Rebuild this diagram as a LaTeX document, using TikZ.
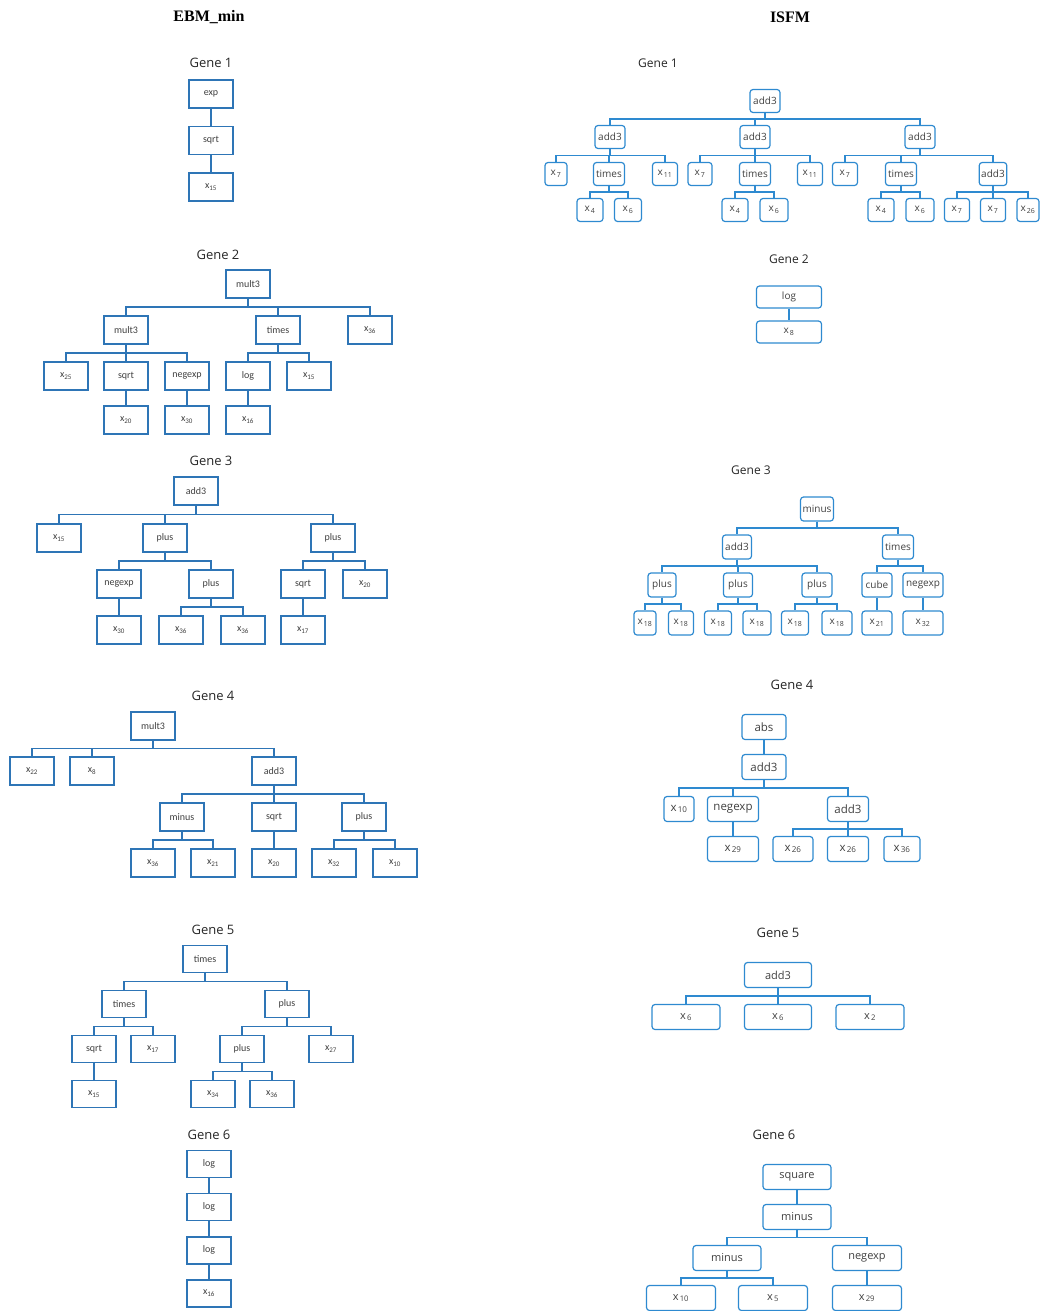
\documentclass[tikz,border=0pt]{standalone}
\usepackage{fontspec}
\setmainfont{Open Sans}
\newfontfamily\ebmlabel{Carlito}
\newfontfamily\headfont{Liberation Serif}
\usetikzlibrary{positioning,calc}
\definecolor{ebmBlue}{HTML}{2E75B6}
\definecolor{isfBlue}{HTML}{2E8AD0}
\definecolor{txtGray}{HTML}{404040}
\newcommand{\xs}[1]{x\textsubscript{#1}}
\newcommand{\xv}[1]{x\kern1.2pt\textsubscript{#1}}
\tikzset{
  head/.style={font=\headfont\bfseries\fontsize{16}{18}\selectfont},
  genetitle/.style={font=\fontsize{13}{15}\selectfont, text=black!85},
  ebmnode/.style={
    draw=ebmBlue, line width=1.6pt, minimum width=44pt, minimum height=28pt,
    inner sep=1pt, text=txtGray, font=\ebmlabel\fontsize{10}{12}\selectfont
  },
  isfnode/.style={
    draw=isfBlue, line width=1.2pt, rounded corners=3pt, minimum width=22pt,
    minimum height=23pt, inner sep=2pt, text=txtGray, font=\fontsize{10}{12}\selectfont
  },
  bigisf/.style={isfnode, minimum height=25pt, font=\fontsize{11.5}{13}\selectfont},
  ebmlink/.style={draw=ebmBlue, line width=1.6pt},
  isflink/.style={draw=isfBlue, line width=1.2pt}
}
\newcommand{\ebmlinks}[2]{\foreach \kid in {#2} \draw[ebmlink] (#1.south) |- ($(#1.south)!.5!(\kid.north)$) -| (\kid.north);}
\newcommand{\isflinks}[2]{\foreach \kid in {#2} \draw[isflink] (#1.south) |- ($(#1.south)!.5!(\kid.north)$) -| (\kid.north);}

\begin{document}
\begin{tikzpicture}[x=1pt,y=-1pt]
  \useasboundingbox (0,0) rectangle (1041,1311);
  \node[head] (hebm) at (209,17) {EBM\_min};
  \node[head] (hisf) at (790,17) {ISFM};

  % EBM_min, gene 1
  \node[genetitle] (et1) at (211,63) {Gene 1};
  \node[ebmnode] (e1a) at (211,94) {exp};
  \node[ebmnode, below=16.9pt of e1a] (e1b) {sqrt};
  \node[ebmnode, below=16.9pt of e1b] (e1c) {\xs{15}};
  \ebmlinks{e1a}{e1b}
  \ebmlinks{e1b}{e1c}

  % gene 2
  \node[genetitle] (et2) at (218,255) {Gene 2};
  \node[ebmnode] (e2a) at (248,284) {mult3};
  \node[ebmnode] (e2b) at (126,330) {mult3};
  \node[ebmnode] (e2c) at (278,330) {times};
  \node[ebmnode] (e2d) at (370,330) {\xs{36}};
  \node[ebmnode] (e2e) at (66,376) {\xs{25}};
  \node[ebmnode] (e2f) at (126,376) {sqrt};
  \node[ebmnode] (e2g) at (187,376) {negexp};
  \node[ebmnode] (e2h) at (248,376) {log};
  \node[ebmnode] (e2i) at (309,376) {\xs{15}};
  \node[ebmnode] (e2j) at (126,420) {\xs{20}};
  \node[ebmnode] (e2k) at (187,420) {\xs{30}};
  \node[ebmnode] (e2l) at (248,420) {\xs{16}};
  \ebmlinks{e2a}{e2b,e2c,e2d}
  \ebmlinks{e2b}{e2e,e2f,e2g}
  \ebmlinks{e2c}{e2h,e2i}
  \ebmlinks{e2f}{e2j}
  \ebmlinks{e2g}{e2k}
  \ebmlinks{e2h}{e2l}

  % gene 3
  \node[genetitle] (et3) at (211,461) {Gene 3};
  \node[ebmnode] (e3a) at (196,491) {add3};
  \node[ebmnode] (e3b) at (59,538) {\xs{15}};
  \node[ebmnode] (e3c) at (165,538) {plus};
  \node[ebmnode] (e3d) at (333,538) {plus};
  \node[ebmnode] (e3e) at (119,584) {negexp};
  \node[ebmnode] (e3f) at (211,584) {plus};
  \node[ebmnode] (e3g) at (303,584) {sqrt};
  \node[ebmnode] (e3h) at (365,584) {\xs{20}};
  \node[ebmnode] (e3i) at (119,630) {\xs{30}};
  \node[ebmnode] (e3j) at (181,630) {\xs{36}};
  \node[ebmnode] (e3k) at (243,630) {\xs{36}};
  \node[ebmnode] (e3l) at (303,630) {\xs{17}};
  \ebmlinks{e3a}{e3b,e3c,e3d}
  \ebmlinks{e3c}{e3e,e3f}
  \ebmlinks{e3d}{e3g,e3h}
  \ebmlinks{e3e}{e3i}
  \ebmlinks{e3f}{e3j,e3k}
  \ebmlinks{e3g}{e3l}

  % gene 4
  \node[genetitle] (et4) at (213,696) {Gene 4};
  \node[ebmnode] (e4a) at (153,726) {mult3};
  \node[ebmnode] (e4b) at (32,771) {\xs{22}};
  \node[ebmnode] (e4c) at (92,771) {\xs{8}};
  \node[ebmnode] (e4d) at (274,771) {add3};
  \node[ebmnode] (e4e) at (182,817) {minus};
  \node[ebmnode] (e4f) at (274,817) {sqrt};
  \node[ebmnode] (e4g) at (364,817) {plus};
  \node[ebmnode] (e4h) at (153,863) {\xs{36}};
  \node[ebmnode] (e4i) at (213,863) {\xs{21}};
  \node[ebmnode] (e4j) at (274,863) {\xs{20}};
  \node[ebmnode] (e4k) at (334,863) {\xs{32}};
  \node[ebmnode] (e4l) at (395,863) {\xs{10}};
  \ebmlinks{e4a}{e4b,e4c,e4d}
  \ebmlinks{e4d}{e4e,e4f,e4g}
  \ebmlinks{e4e}{e4h,e4i}
  \ebmlinks{e4f}{e4j}
  \ebmlinks{e4g}{e4k,e4l}

  % gene 5
  \node[genetitle] (et5) at (213,930) {Gene 5};
  \node[ebmnode, minimum height=27pt] (e5a) at (205,959) {times};
  \node[ebmnode, minimum height=27pt] (e5b) at (124,1004) {times};
  \node[ebmnode, minimum height=27pt] (e5c) at (287,1004) {plus};
  \node[ebmnode, minimum height=27pt] (e5d) at (94,1049) {sqrt};
  \node[ebmnode, minimum height=27pt] (e5e) at (153,1049) {\xs{17}};
  \node[ebmnode, minimum height=27pt] (e5f) at (242,1049) {plus};
  \node[ebmnode, minimum height=27pt] (e5g) at (331,1049) {\xs{27}};
  \node[ebmnode, minimum height=27pt] (e5h) at (94,1094) {\xs{15}};
  \node[ebmnode, minimum height=27pt] (e5i) at (213,1094) {\xs{34}};
  \node[ebmnode, minimum height=27pt] (e5j) at (272,1094) {\xs{36}};
  \ebmlinks{e5a}{e5b,e5c}
  \ebmlinks{e5b}{e5d,e5e}
  \ebmlinks{e5c}{e5f,e5g}
  \ebmlinks{e5d}{e5h}
  \ebmlinks{e5f}{e5i,e5j}

  % gene 6
  \node[genetitle] (et6) at (209,1135) {Gene 6};
  \node[ebmnode, minimum height=27pt] (e6a) at (209,1164) {log};
  \node[ebmnode, minimum height=27pt, below=14.5pt of e6a] (e6b) {log};
  \node[ebmnode, minimum height=27pt, below=14.5pt of e6b] (e6c) {log};
  \node[ebmnode, minimum height=27pt, below=14.5pt of e6c] (e6d) {\xs{16}};
  \ebmlinks{e6a}{e6b}
  \ebmlinks{e6b}{e6c}
  \ebmlinks{e6c}{e6d}

  % ISFM, gene 1
  \node[genetitle, font=\fontsize{12}{14}\selectfont] (it1) at (658,63) {Gene 1};
  \node[isfnode, minimum width=30pt] (i1a) at (765,101) {add3};
  \node[isfnode, minimum width=30pt] (i1b) at (610,137) {add3};
  \node[isfnode, minimum width=30pt] (i1c) at (755,137) {add3};
  \node[isfnode, minimum width=30pt] (i1d) at (920,137) {add3};
  \node[isfnode] (i1e) at (556,174) {\xv{7}};
  \node[isfnode, minimum width=31pt] (i1f) at (609,174) {times};
  \node[isfnode, minimum width=25pt] (i1g) at (665,174) {\xv{11}};
  \node[isfnode, minimum width=24pt] (i1h) at (700,174) {\xv{7}};
  \node[isfnode, minimum width=31pt] (i1i) at (755,174) {times};
  \node[isfnode, minimum width=25pt] (i1j) at (810,174) {\xv{11}};
  \node[isfnode, minimum width=25pt] (i1k) at (845,174) {\xv{7}};
  \node[isfnode, minimum width=31pt] (i1l) at (901,174) {times};
  \node[isfnode, minimum width=26pt] (i1m) at (993,174) {add3};
  \node[isfnode, minimum width=26pt] (i1n) at (590,210) {\xv{4}};
  \node[isfnode, minimum width=27pt] (i1o) at (628,210) {\xv{6}};
  \node[isfnode, minimum width=26pt] (i1p) at (735,210) {\xv{4}};
  \node[isfnode, minimum width=28pt] (i1q) at (774,210) {\xv{6}};
  \node[isfnode, minimum width=26pt] (i1r) at (881,210) {\xv{4}};
  \node[isfnode, minimum width=28pt] (i1s) at (920,210) {\xv{6}};
  \node[isfnode, minimum width=25pt] (i1t) at (957,210) {\xv{7}};
  \node[isfnode, minimum width=25pt] (i1u) at (993,210) {\xv{7}};
  \node[isfnode] (i1v) at (1028,210) {\xv{26}};
  \isflinks{i1a}{i1b,i1c,i1d}
  \isflinks{i1b}{i1e,i1f,i1g}
  \isflinks{i1c}{i1h,i1i,i1j}
  \isflinks{i1d}{i1k,i1l,i1m}
  \isflinks{i1f}{i1n,i1o}
  \isflinks{i1i}{i1p,i1q}
  \isflinks{i1l}{i1r,i1s}
  \isflinks{i1m}{i1t,i1u,i1v}

  % gene 2
  \node[genetitle, font=\fontsize{12}{14}\selectfont] (it2) at (789,259) {Gene 2};
  \node[isfnode, minimum width=65pt, minimum height=22pt] (i2a) at (789,297) {log};
  \node[isfnode, minimum width=65pt, minimum height=22pt, below=11.8pt of i2a] (i2b) {\xv{8}};
  \isflinks{i2a}{i2b}

  % gene 3
  \node[genetitle, font=\fontsize{12}{14}\selectfont] (it3) at (751,470) {Gene 3};
  \node[isfnode, minimum width=32pt, minimum height=24pt] (i3a) at (817,509) {minus};
  \node[isfnode, minimum width=29pt, minimum height=24pt] (i3b) at (737,547) {add3};
  \node[isfnode, minimum width=31pt, minimum height=24pt] (i3c) at (898,547) {times};
  \node[isfnode, minimum width=28pt, minimum height=24pt] (i3d) at (662,585) {plus};
  \node[isfnode, minimum width=29pt, minimum height=24pt] (i3e) at (738,585) {plus};
  \node[isfnode, minimum width=30pt, minimum height=24pt] (i3f) at (817,585) {plus};
  \node[isfnode, minimum width=30pt, minimum height=24pt] (i3g) at (877,585) {cube};
  \node[isfnode, minimum width=40pt, minimum height=24pt] (i3h) at (923,585) {negexp};
  \node[isfnode, minimum width=22pt, minimum height=24pt] (i3i) at (645,623) {\xv{18}};
  \node[isfnode, minimum width=25pt, minimum height=24pt] (i3j) at (681,623) {\xv{18}};
  \node[isfnode, minimum width=27pt, minimum height=24pt] (i3k) at (718,623) {\xv{18}};
  \node[isfnode, minimum width=28pt, minimum height=24pt] (i3l) at (757,623) {\xv{18}};
  \node[isfnode, minimum width=27pt, minimum height=24pt] (i3m) at (795,623) {\xv{18}};
  \node[isfnode, minimum width=30pt, minimum height=24pt] (i3n) at (837,623) {\xv{18}};
  \node[isfnode, minimum width=30pt, minimum height=24pt] (i3o) at (877,623) {\xv{21}};
  \node[isfnode, minimum width=40pt, minimum height=24pt] (i3p) at (923,623) {\xv{32}};
  \isflinks{i3a}{i3b,i3c}
  \isflinks{i3b}{i3d,i3e,i3f}
  \isflinks{i3c}{i3g,i3h}
  \isflinks{i3d}{i3i,i3j}
  \isflinks{i3e}{i3k,i3l}
  \isflinks{i3f}{i3m,i3n}
  \isflinks{i3g}{i3o}
  \isflinks{i3h}{i3p}

  % gene 4
  \node[genetitle] (it4) at (792,685) {Gene 4};
  \node[bigisf, minimum width=44pt] (i4a) at (764,727) {abs};
  \node[bigisf, minimum width=44pt, below=13.8pt of i4a] (i4b) {add3};
  \node[bigisf, minimum width=30pt] (i4c) at (679,809) {\xv{10}};
  \node[bigisf, minimum width=51pt] (i4d) at (733,809) {negexp};
  \node[bigisf, minimum width=41pt] (i4e) at (848,809) {add3};
  \node[bigisf, minimum width=51pt] (i4f) at (733,849) {\xv{29}};
  \node[bigisf, minimum width=40pt] (i4g) at (793,849) {\xv{26}};
  \node[bigisf, minimum width=41pt] (i4h) at (848,849) {\xv{26}};
  \node[bigisf, minimum width=36pt] (i4i) at (902,849) {\xv{36}};
  \isflinks{i4a}{i4b}
  \isflinks{i4b}{i4c,i4d,i4e}
  \isflinks{i4d}{i4f}
  \isflinks{i4e}{i4g,i4h,i4i}

  % gene 5
  \node[genetitle] (it5) at (778,933) {Gene 5};
  \node[bigisf, minimum width=67pt, font=\fontsize{11}{13}\selectfont] (i5a) at (778,975) {add3};
  \node[bigisf, minimum width=68pt, font=\fontsize{11}{13}\selectfont] (i5b) at (686,1017) {\xv{6}};
  \node[bigisf, minimum width=67pt, font=\fontsize{11}{13}\selectfont] (i5c) at (778,1017) {\xv{6}};
  \node[bigisf, minimum width=68pt, font=\fontsize{11}{13}\selectfont] (i5d) at (870,1017) {\xv{2}};
  \isflinks{i5a}{i5b,i5c,i5d}

  % gene 6
  \node[genetitle] (it6) at (774,1135) {Gene 6};
  \node[bigisf, minimum width=68pt, font=\fontsize{11}{13}\selectfont] (i6a) at (797,1177) {square};
  \node[bigisf, minimum width=68pt, font=\fontsize{11}{13}\selectfont, below=13.8pt of i6a] (i6b) {minus};
  \node[bigisf, minimum width=68pt, font=\fontsize{11}{13}\selectfont] (i6c) at (727,1258) {minus};
  \node[bigisf, minimum width=69pt, font=\fontsize{11}{13}\selectfont] (i6d) at (867,1258) {negexp};
  \node[bigisf, minimum width=69pt, font=\fontsize{11}{13}\selectfont] (i6e) at (681,1298) {\xv{10}};
  \node[bigisf, minimum width=69pt, font=\fontsize{11}{13}\selectfont] (i6f) at (773,1298) {\xv{5}};
  \node[bigisf, minimum width=69pt, font=\fontsize{11}{13}\selectfont] (i6g) at (867,1298) {\xv{29}};
  \isflinks{i6a}{i6b}
  \isflinks{i6b}{i6c,i6d}
  \isflinks{i6c}{i6e,i6f}
  \isflinks{i6d}{i6g}
\end{tikzpicture}
\end{document}
